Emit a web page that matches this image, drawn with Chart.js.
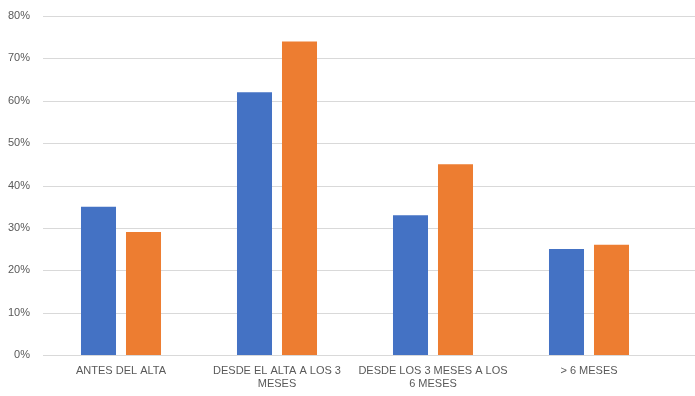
<!DOCTYPE html>
<html>
<head>
<meta charset="utf-8">
<script src="https://cdn.jsdelivr.net/npm/chart.js@4/dist/chart.umd.min.js"></script>
<style>
  html, body { margin: 0; padding: 0; background: #fff; }
  #wrap { width: 695px; height: 396px; position: relative; }
</style>
</head>
<body>
<div id="wrap"><canvas id="c" width="695" height="396"></canvas></div>
<script>
// Categories (multi-line labels as arrays)
const categories = [
  'ANTES DEL ALTA',
  ['DESDE EL ALTA A LOS 3', 'MESES'],
  ['DESDE LOS 3 MESES A LOS', '6 MESES'],
  '> 6 MESES'
];
// Series values, in percent
const serieAzul = [35, 62, 33, 25];
const serieNaranja = [29, 74, 45, 26];
// Y-axis tick values
const yTicks = [0, 10, 20, 30, 40, 50, 60, 70, 80];

const FONT = "'Liberation Sans', Arial, sans-serif";

// Horizontal gridlines that run to the right edge of the canvas
const gridPlugin = {
  id: 'fullGrid',
  beforeDatasetsDraw(chart) {
    const { ctx, scales: { y }, chartArea } = chart;
    ctx.save();
    ctx.strokeStyle = '#d9d9d9';
    ctx.lineWidth = 1;
    yTicks.forEach(v => {
      const py = Math.round(y.getPixelForValue(v)) + 0.5;
      ctx.beginPath();
      ctx.moveTo(chartArea.left, py);
      ctx.lineTo(chart.width, py);
      ctx.stroke();
    });
    ctx.restore();
  }
};

new Chart(document.getElementById('c'), {
  type: 'bar',
  data: {
    labels: categories,
    datasets: [
      { data: serieAzul, backgroundColor: '#4472C4', borderWidth: 0 },
      { data: serieNaranja, backgroundColor: '#ED7D31', borderWidth: 0 }
    ]
  },
  options: {
    responsive: false,
    animation: false,
    devicePixelRatio: 1,
    layout: { padding: { top: 16, right: 28, left: 0, bottom: 0 } },
    categoryPercentage: 0.577,
    barPercentage: 0.778,
    plugins: {
      legend: { display: false },
      tooltip: { enabled: false },
      title: { display: false }
    },
    scales: {
      x: {
        grid: { display: false, drawTicks: false },
        border: { display: false },
        ticks: {
          color: '#595959',
          font: { family: FONT, size: 11, lineHeight: 1.2 },
          padding: 9,
          maxRotation: 0,
          autoSkip: false
        },
        afterFit(scale) { scale.height = 41; }
      },
      y: {
        min: 0,
        max: 80,
        grid: { display: false, drawTicks: false },
        border: { display: false },
        afterBuildTicks(scale) { scale.ticks = yTicks.map(v => ({ value: v })); },
        ticks: {
          color: '#595959',
          font: { family: FONT, size: 11 },
          padding: 13,
          callback: v => v + '%'
        },
        afterFit(scale) {
          scale.width = 43;
          // the label gap is horizontal only; don't reserve it above/below
          scale.paddingTop = 0;
          scale.paddingBottom = 0;
        }
      }
    }
  },
  plugins: [gridPlugin]
});
</script>
</body>
</html>
